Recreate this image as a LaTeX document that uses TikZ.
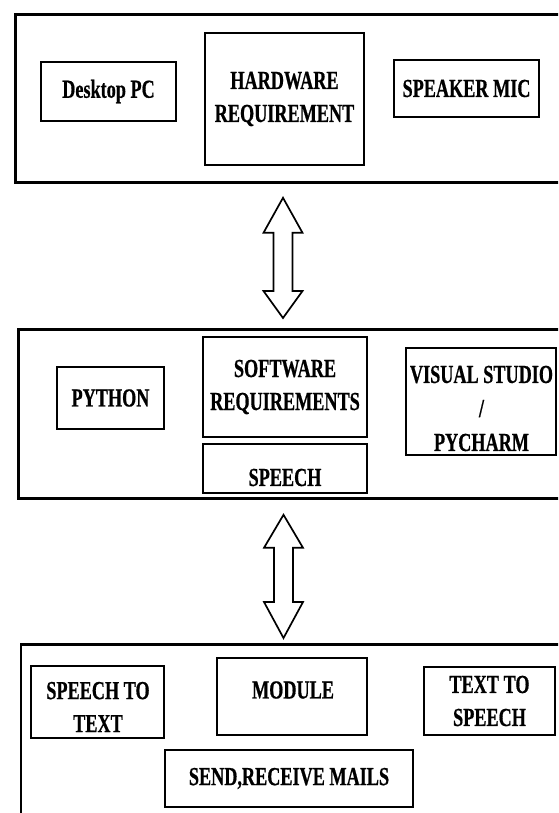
\documentclass[tikz,border=0pt]{standalone}
\usepackage{fontspec}
\setmainfont{Liberation Serif}[FakeStretch=0.70, BoldFeatures={FakeBold=0.6}]
\usetikzlibrary{calc}

\tikzset{
  frame/.style = {draw, line width=2.8pt, inner sep=0pt, anchor=north west},
  inbox/.style = {draw, line width=2.6pt, inner sep=0pt, align=center,
                  font=\fontsize{26}{33}\selectfont\bfseries},
  txt/.style = {inner sep=0pt, align=center, font=\fontsize{26}{33}\selectfont\bfseries},
  hollow/.style = {draw, line width=1.7pt, line join=miter}
}
% #1 top tip, #2 bottom tip, #3 top head length, #4 bottom head length
\newcommand{\twinarrow}[4]{%
  \draw[hollow] (#1) -- ++(-19.5,#3) -- ++(10,0) -- ($(#2)+(-9.5,-#4)$) -- ++(-10,0)
    -- (#2) -- ++(19.5,-#4) -- ++(-10,0) -- ($(#1)+(9.5,#3)$) -- ++(10,0) -- cycle;}

\begin{document}
\begin{tikzpicture}[x=1pt, y=-1pt]
\useasboundingbox (0,0) rectangle (558,813);
\clip (0,0) rectangle (558,813);

% the three frames
\node[frame, minimum width=600, minimum height=168] (hwframe) at (14,13) {};
\node[frame, minimum width=600, minimum height=169] (swframe) at (17,328) {};
\node[frame, minimum width=600, minimum height=200] (modframe) at (19.5,643) {};

% hardware
\node[inbox, minimum width=135, minimum height=59] (desk) at (108.5,91.5) {Desktop PC};
\node[inbox, minimum width=159, minimum height=132] (hw) at (284.5,99) {HARDWARE\\REQUIREMENT};
\node[inbox, minimum width=145, minimum height=57] (spk) at (466.5,88.5) {SPEAKER MIC};

% software
\node[inbox, minimum width=107, minimum height=62] (py) at (110.5,398) {PYTHON};
\node[inbox, minimum width=164, minimum height=100] (sw) at (285,387) {SOFTWARE\\REQUIREMENTS};
\node[inbox, minimum width=164, minimum height=49] (sp) at (285,468.5) {};
\node[txt] at ($(sp)+(0,9)$) {SPEECH};
\node[inbox, minimum width=150, minimum height=107] (vs) at (481,401.5) {};
\node[txt] at ($(vs)+(0.5,7)$) {VISUAL STUDIO\\[1pt]/\\[1pt]PYCHARM};

% module
\node[inbox, minimum width=133, minimum height=72] (stt) at (97.5,702) {};
\node[txt] at ($(stt)+(0.5,5)$) {SPEECH TO\\TEXT};
\node[inbox, minimum width=150, minimum height=77] (mod) at (292,696.5) {};
\node[txt] at ($(mod)+(1,-6.5)$) {MODULE};
\node[inbox, minimum width=131, minimum height=68] (tts) at (489.5,701) {TEXT TO\\SPEECH};
\node[inbox, minimum width=248, minimum height=57] (mail) at (289,778.5) {SEND,RECEIVE MAILS};

% arrows between frames
\coordinate (t1) at ($(hwframe.south west)+(269,14)$);
\coordinate (b1) at ($(swframe.north west)+(266,-10)$);
\coordinate (t2) at ($(swframe.south west)+(266.5,15)$);
\coordinate (b2) at ($(modframe.north west)+(264,-5)$);
\twinarrow{t1}{b1}{35}{27}
\twinarrow{t2}{b2}{33}{36}
\end{tikzpicture}
\end{document}
